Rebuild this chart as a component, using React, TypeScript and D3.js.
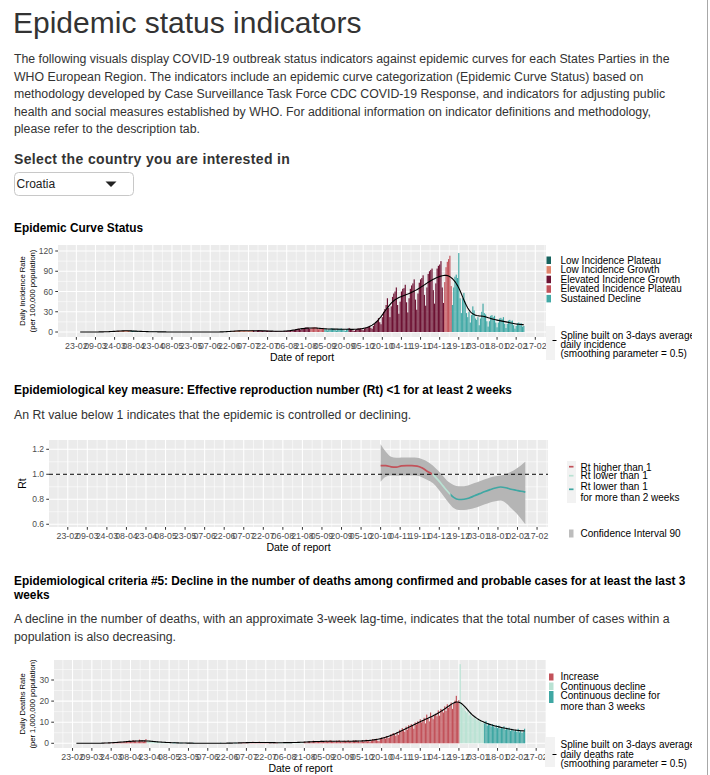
import React, { useMemo } from 'react';
import * as d3 from 'd3';

const FONT = '"Liberation Sans", Arial, Helvetica, sans-serif';

// ---------------- DATA ----------------
// First day of each block of daily values
const MONTH_STARTS = ['2020-02-26', '2020-03-01', '2020-04-01', '2020-05-01', '2020-06-01', '2020-07-01', '2020-08-01', '2020-09-01', '2020-10-01', '2020-11-01', '2020-12-01', '2021-01-01', '2021-02-01'];

// Daily incidence rate (per 100,000 population)
const INC_2020_02 = [0, 0.02, 0.02, 0.02];
const INC_2020_03 = [0.02, 0.02, 0, 0.02, 0.05, 0.02, 0.05, 0.05, 0.05, 0.07, 0.07, 0.07, 0.1, 0.1, 0.22, 0.15, 0.2, 0.22, 0.37, 1.0, 0.6, 0.5, 0.5, 0.7, 1.4, 1.0, 1.7, 1.7, 1.7, 1.7, 2.2];
const INC_2020_04 = [2.1, 2.2, 2.0, 1.6, 1.2, 1.9, 1.7, 1.9, 1.3, 1.1, 1.4, 1.0, 0.5, 1.0, 0.8, 0.6, 0.8, 0.5, 0.5, 0.4, 0.3, 0.3, 0.5, 0.2, 0.3, 0.3, 0.2, 0.1, 0.3, 0.2];
const INC_2020_05 = [0.2, 0.1, 0.1, 0.05, 0.1, 0.05, 0.1, 0.07, 0.05, 0.02, 0.05, 0.02, 0, 0.02, 0.05, 0.02, 0.02, 0, 0.02, 0, 0, 0.02, 0.02, 0, 0, 0.02, 0, 0.02, 0, 0.02, 0];
const INC_2020_06 = [0, 0.02, 0, 0, 0.02, 0, 0, 0, 0, 0.02, 0.02, 0, 0.02, 0.05, 0.05, 0.1, 0.1, 0.15, 0.2, 0.5, 0.7, 0.6, 0.6, 0.8, 1.6, 1.5, 1.7, 2.3, 1.4, 2.3];
const INC_2020_07 = [2.2, 1.8, 1.7, 2.0, 1.6, 1.4, 1.4, 1.6, 2.0, 3.0, 2.2, 1.1, 0.8, 2.3, 2.9, 2.5, 2.1, 1.7, 1.2, 0.9, 2.1, 2.0, 1.6, 1.5, 1.3, 0.8, 0.7, 1.3, 1.0, 1.0, 0.9];
const INC_2020_08 = [1.1, 0.9, 0.6, 1.3, 1.1, 1.7, 1.8, 1.8, 1.5, 1.0, 2.2, 3.0, 4.0, 4.6, 5.1, 4.5, 3.0, 5.5, 5.3, 5.7, 6.9, 6.6, 6.3, 5.1, 5.5, 6.6, 6.8, 7.2, 7.0, 5.6, 4.0];
const INC_2020_09 = [5.1, 6.0, 5.5, 6.1, 4.6, 3.8, 2.3, 4.0, 4.3, 5.6, 5.3, 4.9, 3.3, 2.1, 4.3, 5.0, 5.1, 5.3, 4.4, 2.5, 1.6, 4.3, 5.2, 6.0, 4.7, 4.0, 2.2, 1.5, 3.0, 4.6];
const INC_2020_10 = [5.2, 5.2, 5.6, 3.6, 2.5, 4.7, 6.4, 7.2, 7.8, 9.0, 6.2, 4.8, 9.0, 12.5, 15.0, 17.0, 20.5, 14.5, 11.5, 22.0, 30.0, 34.0, 40.0, 50.0, 36.0, 22.0, 38.0, 52.0, 57.0, 60.0, 66.0];
const INC_2020_11 = [40, 27, 45, 60, 64, 65, 70, 44, 29, 50, 64, 69, 72, 78, 48, 33, 57, 73, 78, 80, 84, 55, 39, 66, 86, 90, 92, 94, 62, 42];
const INC_2020_12 = [72, 94, 98, 100, 105, 66, 43, 74, 96, 104, 108, 113, 68, 40, 66, 82, 85, 80, 117, 50, 28, 50, 58, 45, 28, 22, 30, 14, 25, 38, 32];
const INC_2021_01 = [20, 18, 22, 10, 20, 30, 42, 28, 26, 16, 8, 16, 24, 25, 22, 24, 14, 7, 14, 20, 21, 19, 22, 12, 6, 12, 17, 18, 16, 17, 10];
const INC_2021_02 = [5, 9, 13, 14, 12, 13, 8, 9];
const INC_MONTHS = [INC_2020_02, INC_2020_03, INC_2020_04, INC_2020_05, INC_2020_06, INC_2020_07, INC_2020_08, INC_2020_09, INC_2020_10, INC_2020_11, INC_2020_12, INC_2021_01, INC_2021_02];

// Daily deaths rate (per 1,000,000 population)
const DTH_2020_02 = [0, 0, 0, 0];
const DTH_2020_03 = [0, 0, 0, 0, 0, 0, 0, 0, 0, 0, 0, 0, 0, 0, 0, 0, 0, 0, 0.25, 0, 0, 0.25, 0.25, 0, 0.5, 0.25, 0.25, 0.5, 0.25, 0.75, 0.5];
const DTH_2020_04 = [0.5, 0.5, 0.75, 0.5, 1.0, 0.75, 1.25, 0.75, 1.0, 1.5, 1.0, 1.25, 0.5, 1.0, 1.75, 1.0, 1.5, 0.75, 1.25, 2.0, 1.5, 1.0, 0.75, 1.25, 0.5, 1.0, 0.75, 0.5, 1.0, 0.5];
const DTH_2020_05 = [0.5, 0.25, 0.5, 0.75, 0.25, 0.5, 0.25, 0.5, 0.25, 0, 0.25, 0.5, 0.25, 0, 0.25, 0, 0.25, 0.25, 0, 0, 0.25, 0, 0, 0.25, 0, 0, 0.25, 0, 0, 0, 0];
const DTH_2020_06 = [0, 0, 0, 0, 0, 0, 0, 0, 0, 0, 0, 0, 0, 0, 0, 0, 0.25, 0, 0, 0, 0, 0, 0, 0.25, 0, 0, 0, 0.25, 0.25, 0];
const DTH_2020_07 = [0.25, 0, 0.25, 0.25, 0.5, 0.25, 0.25, 0.5, 0, 0.25, 0.5, 0.75, 0.25, 0.5, 0.25, 0.5, 0.75, 0.25, 0.5, 0.25, 0.5, 0.5, 0.25, 0.25, 0.5, 0.25, 0, 0.25, 0.5, 0.25, 0.25];
const DTH_2020_08 = [0.25, 0.5, 0.25, 0, 0.25, 0.5, 0.25, 0.25, 0.5, 0.25, 0.25, 0.5, 0, 0.25, 0.5, 0.25, 0.5, 0.75, 0.25, 0.5, 0.75, 0.5, 0.25, 0.75, 1.0, 0.5, 0.75, 1.25, 0.5, 0.75, 1.0];
const DTH_2020_09 = [1.0, 0.75, 1.25, 0.5, 1.0, 0.75, 1.25, 0.75, 1.0, 1.5, 1.25, 0.75, 1.0, 0.5, 1.25, 1.0, 1.5, 0.75, 0.5, 1.0, 1.25, 1.0, 0.75, 1.5, 0.75, 1.0, 0.5, 1.25, 1.0, 1.5];
const DTH_2020_10 = [0.7, 1.2, 0.5, 1.0, 1.5, 0.7, 1.2, 1.7, 1.0, 1.5, 0.7, 1.2, 2.0, 1.5, 1.7, 2.2, 1.2, 1.0, 2.5, 2.7, 2.0, 3.0, 2.2, 3.5, 2.5, 2.7, 4.2, 3.7, 4.9, 4.4, 3.5];
const DTH_2020_11 = [5.2, 4.0, 6.4, 5.7, 7.2, 6.2, 5.4, 7.9, 6.4, 8.6, 7.4, 9.1, 8.4, 6.9, 9.9, 8.9, 10.4, 9.6, 11.4, 9.9, 10.9, 12.1, 9.4, 13.6, 11.6, 10.4, 14.6, 12.3, 11.4, 13.3];
const DTH_2020_12 = [14.1, 12.8, 15.6, 13.1, 16.3, 15.8, 14.6, 17.5, 15.3, 18.5, 16.8, 17.8, 19.3, 16.3, 18.8, 20.2, 22.5, 19.5, 20.5, 37.5, 18.5, 16.8, 17.5, 15.3, 14.6, 15.8, 13.3, 14.1, 12.8, 12.1, 12.6];
const DTH_2021_01 = [11.6, 10.9, 11.9, 10.4, 10.9, 9.6, 10.1, 9.4, 10.6, 8.4, 9.6, 8.9, 7.9, 9.1, 8.1, 7.4, 8.6, 7.2, 8.4, 6.9, 7.7, 7.2, 8.1, 6.4, 7.4, 6.9, 7.4, 5.9, 6.9, 6.4, 5.7];
const DTH_2021_02 = [6.2, 5.4, 6.9, 5.2, 5.9, 4.9, 5.4, 6.9];
const DTH_MONTHS = [DTH_2020_02, DTH_2020_03, DTH_2020_04, DTH_2020_05, DTH_2020_06, DTH_2020_07, DTH_2020_08, DTH_2020_09, DTH_2020_10, DTH_2020_11, DTH_2020_12, DTH_2021_01, DTH_2021_02];

// Epidemic curve status periods (start date -> status)
const INC_STATUS_FROM = ['2020-02-26', '2020-04-06', '2020-06-21', '2020-07-11', '2020-08-25', '2020-09-05', '2020-09-24', '2020-12-08', '2020-12-14'];
const INC_STATUS = ['Low Incidence Growth', 'Low Incidence Plateau', 'Low Incidence Growth', 'Elevated Incidence Growth', 'Elevated Incidence Plateau', 'Sustained Decline', 'Elevated Incidence Growth', 'Elevated Incidence Plateau', 'Sustained Decline'];
const INC_LEGEND = ['Low Incidence Plateau', 'Low Incidence Growth', 'Elevated Incidence Growth', 'Elevated Incidence Plateau', 'Sustained Decline'];
const INC_COLORS = ['#17635e', '#e0836b', '#6d1233', '#c2525a', '#42a9a6'];

// Deaths trend periods
const DTH_STATUS_FROM = ['2020-02-26', '2020-04-21', '2020-05-11', '2020-07-01', '2020-08-01', '2020-08-21', '2020-12-20', '2021-01-08'];
const DTH_STATUS = ['Increase', 'Continuous decline', 'Continuous decline for more than 3 weeks', 'Increase', 'Continuous decline', 'Increase', 'Continuous decline', 'Continuous decline for more than 3 weeks'];
const DTH_LEGEND = ['Increase', 'Continuous decline', 'Continuous decline for more than 3 weeks'];
const DTH_COLORS = ['#c2525a', '#b9e2d3', '#3fa7a3'];

// Effective reproduction number
const RT_DATES = ['2020-10-20', '2020-10-24', '2020-10-28', '2020-11-01', '2020-11-05', '2020-11-09', '2020-11-13', '2020-11-17', '2020-11-21', '2020-11-25', '2020-11-29', '2020-12-03', '2020-12-07', '2020-12-11', '2020-12-15', '2020-12-19', '2020-12-23', '2020-12-27', '2020-12-31', '2021-01-04', '2021-01-08', '2021-01-12', '2021-01-16', '2021-01-20', '2021-01-24', '2021-01-28', '2021-02-01', '2021-02-05', '2021-02-08'];
const RT_VALUES = [1.069, 1.069, 1.06, 1.057, 1.067, 1.069, 1.069, 1.066, 1.05, 1.022, 0.998, 0.955, 0.905, 0.856, 0.815, 0.798, 0.8, 0.81, 0.828, 0.845, 0.862, 0.877, 0.89, 0.898, 0.892, 0.88, 0.872, 0.864, 0.857];
const RT_UPPER = [1.24, 1.18, 1.14, 1.133, 1.135, 1.135, 1.135, 1.132, 1.12, 1.1, 1.07, 1.03, 0.985, 0.94, 0.915, 0.905, 0.905, 0.915, 0.93, 0.945, 0.96, 0.975, 0.985, 0.99, 1.0, 1.02, 1.045, 1.075, 1.1];
const RT_LOWER = [0.94, 0.98, 0.99, 0.988, 0.99, 0.99, 0.99, 0.988, 0.975, 0.955, 0.93, 0.885, 0.83, 0.775, 0.73, 0.715, 0.715, 0.72, 0.73, 0.745, 0.76, 0.775, 0.785, 0.79, 0.77, 0.73, 0.69, 0.64, 0.6];
const RT_COLORS = ['#c2525a', '#b9e2d3', '#3fa7a3'];
const RT_LEGEND = ['Rt higher than 1', 'Rt lower than 1', 'Rt lower than 1', 'for more than 2 weeks'];

// Axes
const X_TICK_DATES = ['2020-02-23', '2020-03-09', '2020-03-24', '2020-04-08', '2020-04-23', '2020-05-08', '2020-05-23', '2020-06-07', '2020-06-22', '2020-07-07', '2020-07-22', '2020-08-06', '2020-08-21', '2020-09-05', '2020-09-20', '2020-10-05', '2020-10-20', '2020-11-04', '2020-11-19', '2020-12-04', '2020-12-19', '2021-01-03', '2021-01-18', '2021-02-02', '2021-02-17'];
const X_TICK_LABELS = ['23-02', '09-03', '24-03', '08-04', '23-04', '08-05', '23-05', '07-06', '22-06', '07-07', '22-07', '06-08', '21-08', '05-09', '20-09', '05-10', '20-10', '04-11', '19-11', '04-12', '19-12', '03-01', '18-01', '02-02', '17-02'];
const INC_Y_TICKS = [0, 30, 60, 90, 120];
const INC_Y_MINOR = [15, 45, 75, 105];
const RT_Y_TICKS = [0.6, 0.8, 1.0, 1.2];
const RT_Y_MINOR = [0.7, 0.9, 1.1];
const DTH_Y_TICKS = [0, 10, 20, 30];
const DTH_Y_MINOR = [5, 15, 25, 35];

const PARAGRAPH_1 = [
  'The following visuals display COVID-19 outbreak status indicators against epidemic curves for each States Parties in the',
  'WHO European Region. The indicators include an epidemic curve categorization (Epidemic Curve Status) based on',
  'methodology developed by Case Surveillance Task Force CDC COVID-19 Response, and indicators for adjusting public',
  'health and social measures established by WHO. For additional information on indicator definitions and methodology,',
  'please refer to the description tab.',
];

// ---------------- helpers ----------------
const parseDay = (s: string) => new Date(s + 'T00:00:00Z');

type Rec = { date: Date; value: number; status: string };

function buildDaily(months: number[][], froms: string[], statuses: string[]): Rec[] {
  const recs: Rec[] = [];
  const fromDates = froms.map(parseDay);
  months.forEach((arr, mi) => {
    const start = parseDay(MONTH_STARTS[mi]);
    arr.forEach((v, j) => {
      const date = d3.utcDay.offset(start, j);
      let status = statuses[0];
      fromDates.forEach((f, k) => {
        if (+date >= +f) status = statuses[k];
      });
      recs.push({ date, value: v, status });
    });
  });
  return recs;
}

// smoothing of the 3-day average (stand-in for the smoothing spline)
function splineOf(values: number[], sigma: number): number[] {
  const n = values.length;
  const avg3 = values.map((_, i) => d3.mean(values.slice(Math.max(0, i - 1), Math.min(n, i + 2))) as number);
  const r = Math.ceil(sigma * 4);
  return avg3.map((_, i) => {
    let s = 0;
    let w = 0;
    for (let j = Math.max(0, i - r); j <= Math.min(n - 1, i + r); j++) {
      const k = Math.exp(-((j - i) ** 2) / (2 * sigma * sigma));
      s += k * avg3[j];
      w += k;
    }
    return s / w;
  });
}

type Cfg = { left: number; right: number; top: number; bottom: number; yDomain: [number, number] };

const C1: Cfg = { left: 58, right: 546, top: 245, bottom: 337, yDomain: [-7.4, 128.9] };
const C2: Cfg = { left: 49, right: 548, top: 440, bottom: 527, yDomain: [0.578, 1.2744] };
const C3: Cfg = { left: 54, right: 547, top: 660, bottom: 748, yDomain: [-2.23, 39.48] };

function xDomain(recs: Rec[]): [Date, Date] {
  const first = recs[0].date;
  const last = recs[recs.length - 1].date;
  const span = +last - +first;
  return [new Date(+first - 0.05 * span), new Date(+last + 0.05 * span)];
}

function Frame({ cfg, xs, ys, yTicks, yMinor }: any) {
  const tickDates = X_TICK_DATES.map(parseDay);
  const minor: Date[] = [];
  const half = (+tickDates[1] - +tickDates[0]) / 2;
  minor.push(new Date(+tickDates[0] - half));
  tickDates.forEach((d) => minor.push(new Date(+d + half)));
  const inX = (d: Date) => xs(d) >= cfg.left && xs(d) <= cfg.right;
  return (
    <g>
      <rect x={cfg.left} y={cfg.top} width={cfg.right - cfg.left} height={cfg.bottom - cfg.top} fill="#ebebeb" />
      {yMinor.map((v: number) => (
        <line key={'ym' + v} x1={cfg.left} x2={cfg.right} y1={ys(v)} y2={ys(v)} stroke="#fff" strokeWidth={0.55} />
      ))}
      {minor.filter(inX).map((d, i) => (
        <line key={'xm' + i} x1={xs(d)} x2={xs(d)} y1={cfg.top} y2={cfg.bottom} stroke="#fff" strokeWidth={0.55} />
      ))}
      {yTicks.map((v: number) => (
        <line key={'yM' + v} x1={cfg.left} x2={cfg.right} y1={ys(v)} y2={ys(v)} stroke="#fff" strokeWidth={1.07} />
      ))}
      {tickDates.filter(inX).map((d, i) => (
        <line key={'xM' + i} x1={xs(d)} x2={xs(d)} y1={cfg.top} y2={cfg.bottom} stroke="#fff" strokeWidth={1.07} />
      ))}
    </g>
  );
}

function Axes({ cfg, xs, ys, yTicks, fmt, yTitle, yTitleSize }: any) {
  const tickDates = X_TICK_DATES.map(parseDay);
  const midY = (cfg.top + cfg.bottom) / 2;
  return (
    <g>
      {yTicks.map((v: number) => (
        <g key={'yt' + v}>
          <line x1={cfg.left - 2.75} x2={cfg.left} y1={ys(v)} y2={ys(v)} stroke="#333" strokeWidth={1} />
          <text x={cfg.left - 5} y={ys(v) + 3} textAnchor="end" fontSize={8.5} fill="#4d4d4d">
            {fmt(v)}
          </text>
        </g>
      ))}
      {tickDates.map((d, i) => (
        <g key={'xt' + i}>
          <line x1={xs(d)} x2={xs(d)} y1={cfg.bottom} y2={cfg.bottom + 2.75} stroke="#333" strokeWidth={1} />
          <text x={xs(d)} y={cfg.bottom + 12.3} textAnchor="middle" fontSize={8.8} fill="#4d4d4d">
            {X_TICK_LABELS[i]}
          </text>
        </g>
      ))}
      <text x={(cfg.left + cfg.right) / 2} y={cfg.bottom + 24} textAnchor="middle" fontSize={10.5} fill="#000">
        Date of report
      </text>
      {yTitle.map((t: string, i: number) => {
        const bx = yTitle.length === 1 ? 26 : 24.5 + i * 10;
        return (
          <text key={'ytl' + i} transform={`translate(${bx},${midY}) rotate(-90)`} textAnchor="middle" fontSize={yTitleSize} fill="#000">
            {t}
          </text>
        );
      })}
    </g>
  );
}

function BarChart({ cfg, recs, colorOf, sigma, yTicks, yMinor, yTitle }: any) {
  const xs = d3.scaleUtc().domain(xDomain(recs)).range([cfg.left, cfg.right]);
  const ys = d3.scaleLinear().domain(cfg.yDomain).range([cfg.bottom, cfg.top]);
  const dayW = xs(d3.utcDay.offset(recs[0].date, 1)) - xs(recs[0].date);
  const bw = dayW * 0.92;
  const sm = splineOf(recs.map((r: Rec) => r.value), sigma);
  const line = d3
    .line<number>()
    .x((_, i) => xs(recs[i].date))
    .y((v) => ys(v));
  return (
    <g>
      <Frame cfg={cfg} xs={xs} ys={ys} yTicks={yTicks} yMinor={yMinor} />
      {recs
        .filter((r: Rec) => r.value > 0)
        .map((r: Rec, i: number) => (
          <rect key={i} x={xs(r.date) - bw / 2} y={ys(r.value)} width={bw} height={ys(0) - ys(r.value)} fill={colorOf(r.status)} />
        ))}
      <path d={line(sm) || ''} fill="none" stroke="#000" strokeWidth={1.1} />
      <Axes cfg={cfg} xs={xs} ys={ys} yTicks={yTicks} fmt={(v: number) => String(v)} yTitle={yTitle} yTitleSize={7.6} />
    </g>
  );
}

function RtChart({ cfg, domain }: any) {
  const xs = d3.scaleUtc().domain(domain).range([cfg.left, cfg.right]);
  const ys = d3.scaleLinear().domain(cfg.yDomain).range([cfg.bottom, cfg.top]);
  const dates = RT_DATES.map(parseDay);
  const pts = dates.map((d, i) => ({ d, v: RT_VALUES[i], lo: RT_LOWER[i], hi: RT_UPPER[i] }));
  const area = d3
    .area<any>()
    .x((p) => xs(p.d))
    .y0((p) => ys(p.lo))
    .y1((p) => ys(p.hi))
    .curve(d3.curveMonotoneX);
  const line = d3
    .line<any>()
    .x((p) => xs(p.d))
    .y((p) => ys(p.v))
    .curve(d3.curveMonotoneX);
  // crossing of Rt = 1 and two weeks after
  let cross = dates[dates.length - 1];
  for (let i = 1; i < pts.length; i++) {
    if (pts[i].v < 1 && pts[i - 1].v >= 1) {
      const t = (pts[i - 1].v - 1) / (pts[i - 1].v - pts[i].v);
      cross = new Date(+pts[i - 1].d + t * (+pts[i].d - +pts[i - 1].d));
      break;
    }
  }
  const twoWeeks = d3.utcDay.offset(cross, 14);
  const xc = xs(cross);
  const x2 = xs(twoWeeks);
  const segs = [
    [cfg.left, xc],
    [xc, x2],
    [x2, cfg.right],
  ];
  return (
    <g>
      <defs>
        {segs.map((s, i) => (
          <clipPath key={i} id={'rtclip' + i}>
            <rect x={s[0]} y={cfg.top} width={s[1] - s[0]} height={cfg.bottom - cfg.top} />
          </clipPath>
        ))}
      </defs>
      <Frame cfg={cfg} xs={xs} ys={ys} yTicks={RT_Y_TICKS} yMinor={RT_Y_MINOR} />
      <path d={area(pts) || ''} fill="#b5b5b5" />
      <line x1={cfg.left} x2={cfg.right} y1={ys(1)} y2={ys(1)} stroke="#000" strokeWidth={1} strokeDasharray="4,3" />
      {segs.map((_, i) => (
        <path key={i} d={line(pts) || ''} fill="none" stroke={RT_COLORS[i]} strokeWidth={1.7} clipPath={`url(#rtclip${i})`} />
      ))}
      <Axes cfg={cfg} xs={xs} ys={ys} yTicks={RT_Y_TICKS} fmt={(v: number) => v.toFixed(1)} yTitle={['Rt']} yTitleSize={10.5} />
    </g>
  );
}

export default function App() {
  const incRecs = useMemo(() => buildDaily(INC_MONTHS, INC_STATUS_FROM, INC_STATUS), []);
  const dthRecs = useMemo(() => buildDaily(DTH_MONTHS, DTH_STATUS_FROM, DTH_STATUS), []);
  const incColor = (s: string) => INC_COLORS[INC_LEGEND.indexOf(s)];
  const dthColor = (s: string) => DTH_COLORS[DTH_LEGEND.indexOf(s)];
  const dom = xDomain(incRecs);

  const lg = { fontSize: 10, fill: '#000' } as const;
  const P = 12.3;

  return (
    <div style={{ position: 'fixed', left: 0, top: 0, width: 710, height: 775, background: '#fff' }}>
      <svg width={710} height={775} style={{ display: 'block', fontFamily: FONT }}>
        <defs>
          <clipPath id="legclip">
            <rect x={0} y={0} width={692} height={775} />
          </clipPath>
        </defs>
        <rect x={0} y={0} width={710} height={775} fill="#fff" />

        {/* header */}
        <text x={13} y={33} fontSize={30} fill="#333">
          Epidemic status indicators
        </text>
        {PARAGRAPH_1.map((t, i) => (
          <text key={i} x={14} y={63 + i * 17.6} fontSize={P} fill="#333">
            {t}
          </text>
        ))}
        <text x={14} y={164} fontSize={14} fontWeight="bold" fill="#333" letterSpacing={0.35}>
          Select the country you are interested in
        </text>
        <rect x={14.5} y={172.5} width={119} height={23} rx={4} fill="#fff" stroke="#c8c8c8" />
        <text x={16.5} y={188} fontSize={12} fill="#222">
          Croatia
        </text>
        <path d="M105.5,181.5 L116.5,181.5 L111,187 Z" fill="#222" />

        {/* chart 1 */}
        <text x={14} y={232} fontSize={11.85} fontWeight="bold" fill="#000">
          Epidemic Curve Status
        </text>
        <BarChart cfg={C1} recs={incRecs} colorOf={incColor} sigma={4} yTicks={INC_Y_TICKS} yMinor={INC_Y_MINOR} yTitle={['Daily Incidence Rate', '(per 100,000 population)']} />
        <g clipPath="url(#legclip)">
          <rect x={546} y={240} width={150} height={125} fill="#fff" />
          {INC_LEGEND.map((t, i) => (
            <g key={t}>
              <rect x={546.5} y={256.5 + i * 9.6} width={4.5} height={7.5} fill={INC_COLORS[i]} />
              <text x={560.5} y={263.5 + i * 9.6} {...lg}>
                {t}
              </text>
            </g>
          ))}
          <rect x={546} y={326} width={9} height={34} fill="#f2f2f2" />
          <line x1={552.5} x2={556.5} y1={340.5} y2={340.5} stroke="#000" strokeWidth={1} />
          <text x={560.5} y={338.5} {...lg}>Spline built on 3-days average</text>
          <text x={560.5} y={347.7} {...lg}>daily incidence</text>
          <text x={560.5} y={356.9} {...lg}>(smoothing parameter = 0.5)</text>
        </g>

        {/* chart 2 */}
        <text x={14} y={394} fontSize={11.85} fontWeight="bold" fill="#000">
          Epidemiological key measure: Effective reproduction number (Rt) &lt;1 for at least 2 weeks
        </text>
        <text x={14} y={419} fontSize={P} fill="#333">
          An Rt value below 1 indicates that the epidemic is controlled or declining.
        </text>
        <RtChart cfg={C2} domain={dom} />
        <g clipPath="url(#legclip)">
          <rect x={567} y={461} width={9} height={42} fill="#f2f2f2" />
          <line x1={569} x2={573.5} y1={466.7} y2={466.7} stroke={RT_COLORS[0]} strokeWidth={1.7} />
          <line x1={569} x2={573.5} y1={475.7} y2={475.7} stroke={RT_COLORS[1]} strokeWidth={1.7} />
          <line x1={569} x2={573.5} y1={489.3} y2={489.3} stroke={RT_COLORS[2]} strokeWidth={1.7} />
          <text x={580.5} y={470.7} {...lg}>{RT_LEGEND[0]}</text>
          <text x={580.5} y={479.2} {...lg}>{RT_LEGEND[1]}</text>
          <text x={580.5} y={490.2} {...lg}>{RT_LEGEND[2]}</text>
          <text x={580.5} y={501.2} {...lg}>{RT_LEGEND[3]}</text>
          <rect x={569} y={529.5} width={4.5} height={8} fill="#bdbdbd" />
          <text x={580.5} y={536.8} {...lg}>Confidence Interval 90</text>
        </g>

        {/* chart 3 */}
        <text x={14} y={585} fontSize={11.85} fontWeight="bold" fill="#000">
          Epidemiological criteria #5: Decline in the number of deaths among confirmed and probable cases for at least the last 3
        </text>
        <text x={14} y={599} fontSize={11.85} fontWeight="bold" fill="#000">
          weeks
        </text>
        <text x={14} y={623} fontSize={P} fill="#333">
          A decline in the number of deaths, with an approximate 3-week lag-time, indicates that the total number of cases within a
        </text>
        <text x={14} y={640.5} fontSize={P} fill="#333">
          population is also decreasing.
        </text>
        <BarChart cfg={C3} recs={dthRecs} colorOf={dthColor} sigma={5} yTicks={DTH_Y_TICKS} yMinor={DTH_Y_MINOR} yTitle={['Daily Deaths Rate', '(per 1,000,000 population)']} />
        <g clipPath="url(#legclip)">
          <rect x={546} y={655} width={150} height={120} fill="#fff" />
          <rect x={549} y={673.5} width={4.5} height={7} fill={DTH_COLORS[0]} />
          <rect x={549} y={682.5} width={4.5} height={7.5} fill={DTH_COLORS[1]} />
          <rect x={549} y={691} width={4.5} height={12} fill={DTH_COLORS[2]} />
          <text x={560.5} y={680.2} {...lg}>Increase</text>
          <text x={560.5} y={689.7} {...lg}>Continuous decline</text>
          <text x={560.5} y={698.7} {...lg}>Continuous decline for</text>
          <text x={560.5} y={710.2} {...lg}>more than 3 weeks</text>
          <rect x={545} y={737} width={10} height={30} fill="#f2f2f2" />
          <line x1={552.5} x2={556.5} y1={754.5} y2={754.5} stroke="#000" strokeWidth={1} />
          <text x={560.5} y={748.4} {...lg}>Spline built on 3-days average</text>
          <text x={560.5} y={757.7} {...lg}>daily deaths rate</text>
          <text x={560.5} y={767} {...lg}>(smoothing parameter = 0.5)</text>
        </g>

        <line x1={707.5} x2={707.5} y1={0} y2={775} stroke="#a8a8a8" strokeWidth={1} />
      </svg>
    </div>
  );
}
